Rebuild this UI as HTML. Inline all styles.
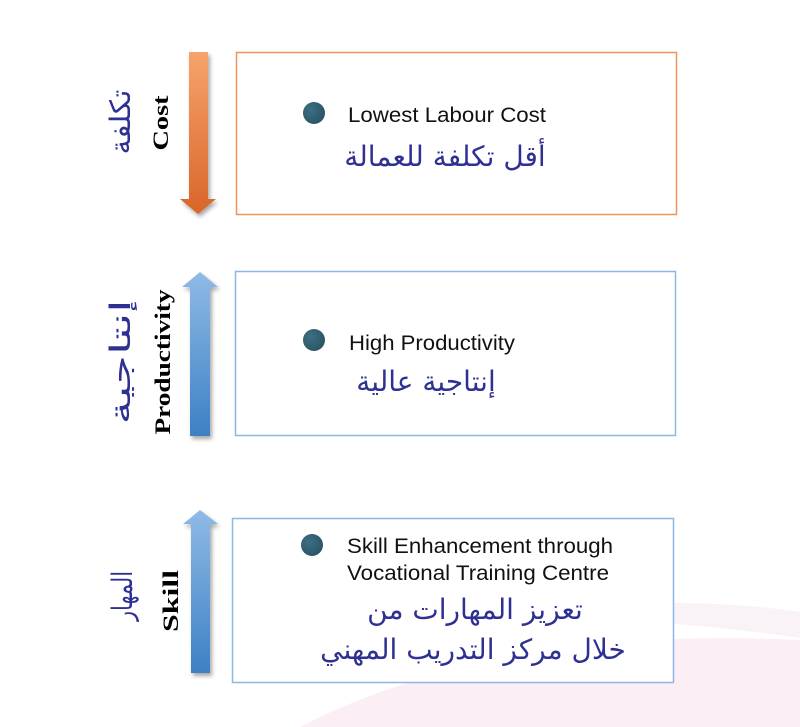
<!DOCTYPE html>
<html><head><meta charset="utf-8"><style>
html,body{margin:0;padding:0;background:#fff;}
body{width:800px;height:727px;position:relative;overflow:hidden;}
</style></head><body>
<svg width="800" height="727" viewBox="0 0 800 727" xmlns="http://www.w3.org/2000/svg" style="position:absolute;left:0;top:0">
<defs>
<linearGradient id="og" x1="0" y1="0" x2="0" y2="1"><stop offset="0" stop-color="#f6a36c"/><stop offset="1" stop-color="#d9652a"/></linearGradient>
<linearGradient id="bg" x1="0" y1="0" x2="0" y2="1"><stop offset="0" stop-color="#8fbbe6"/><stop offset="1" stop-color="#3d80c4"/></linearGradient>
<radialGradient id="dot" cx="0.35" cy="0.35" r="0.7"><stop offset="0" stop-color="#3c6f82"/><stop offset="1" stop-color="#2b5466"/></radialGradient>
<filter id="sh"><feDropShadow dx="2" dy="3" stdDeviation="2" flood-opacity="0.35"/></filter>
</defs>
<path d="M300 727 C430 660 600 630 800 640 L800 727 Z" fill="#fbeef4"/>
<path d="M420 625 C580 595 720 600 800 612 L800 638 C640 615 520 615 420 625 Z" fill="#f9f2f6"/>
<rect x="236.5" y="52.5" width="440" height="162" fill="#fff" stroke="#ef9459" stroke-width="1.5"/>
<rect x="235.5" y="271.5" width="440" height="164" fill="#fff" stroke="#8db6e3" stroke-width="1.5"/>
<rect x="232.5" y="518.5" width="441" height="164" fill="#fff" stroke="#8db6e3" stroke-width="1.5"/>
<path d="M189 52 L208 52 L208 199 L216 199 L198 214 L180 199 L189 199 Z" fill="url(#og)" filter="url(#sh)"/>
<path d="M200 272 L218 287 L210 287 L210 436 L190 436 L190 287 L182 287 Z" fill="url(#bg)" filter="url(#sh)"/>
<path d="M200 510 L218 524 L210 524 L210 673 L191 673 L191 524 L183 524 Z" fill="url(#bg)" filter="url(#sh)"/>
<g font-family="Liberation Serif, serif" font-weight="bold" font-size="22" fill="#000">
<text transform="translate(168,123) rotate(-90)" text-anchor="middle" textLength="55" lengthAdjust="spacingAndGlyphs">Cost</text>
<text transform="translate(170,362) rotate(-90)" text-anchor="middle" textLength="145" lengthAdjust="spacingAndGlyphs">Productivity</text>
<text transform="translate(178,601) rotate(-90)" text-anchor="middle" textLength="62" lengthAdjust="spacingAndGlyphs">Skill</text>
</g>
<g font-family="DejaVu Sans, sans-serif" font-size="28" fill="#2e3192">
<text transform="translate(130,122) rotate(-90)" text-anchor="middle" textLength="65" lengthAdjust="spacingAndGlyphs">تكلفة</text>
<text transform="translate(130,362) rotate(-90)" text-anchor="middle" textLength="125" lengthAdjust="spacingAndGlyphs">إنتاجية</text>
<text transform="translate(132,596) rotate(-90)" text-anchor="middle" textLength="50" lengthAdjust="spacingAndGlyphs">المهار</text>
</g>
<circle cx="314" cy="113" r="11" fill="url(#dot)"/>
<circle cx="314" cy="340" r="11" fill="url(#dot)"/>
<circle cx="312" cy="545" r="11" fill="url(#dot)"/>
<g font-family="Liberation Sans, sans-serif" font-size="21" fill="#111">
<text x="348" y="122" textLength="198" lengthAdjust="spacingAndGlyphs">Lowest Labour Cost</text>
<text x="349" y="350" textLength="166" lengthAdjust="spacingAndGlyphs">High Productivity</text>
<text x="347" y="553" textLength="266" lengthAdjust="spacingAndGlyphs">Skill Enhancement through</text>
<text x="347" y="580" textLength="262" lengthAdjust="spacingAndGlyphs">Vocational Training Centre</text>
</g>
<g font-family="DejaVu Sans, sans-serif" font-size="28" fill="#2e3192" text-anchor="middle">
<text x="445" y="166">أقل تكلفة للعمالة</text>
<text x="426" y="391">إنتاجية عالية</text>
<text x="475" y="619">تعزيز المهارات من</text>
<text x="473" y="659">خلال مركز التدريب المهني</text>
</g>
</svg>
</body></html>
